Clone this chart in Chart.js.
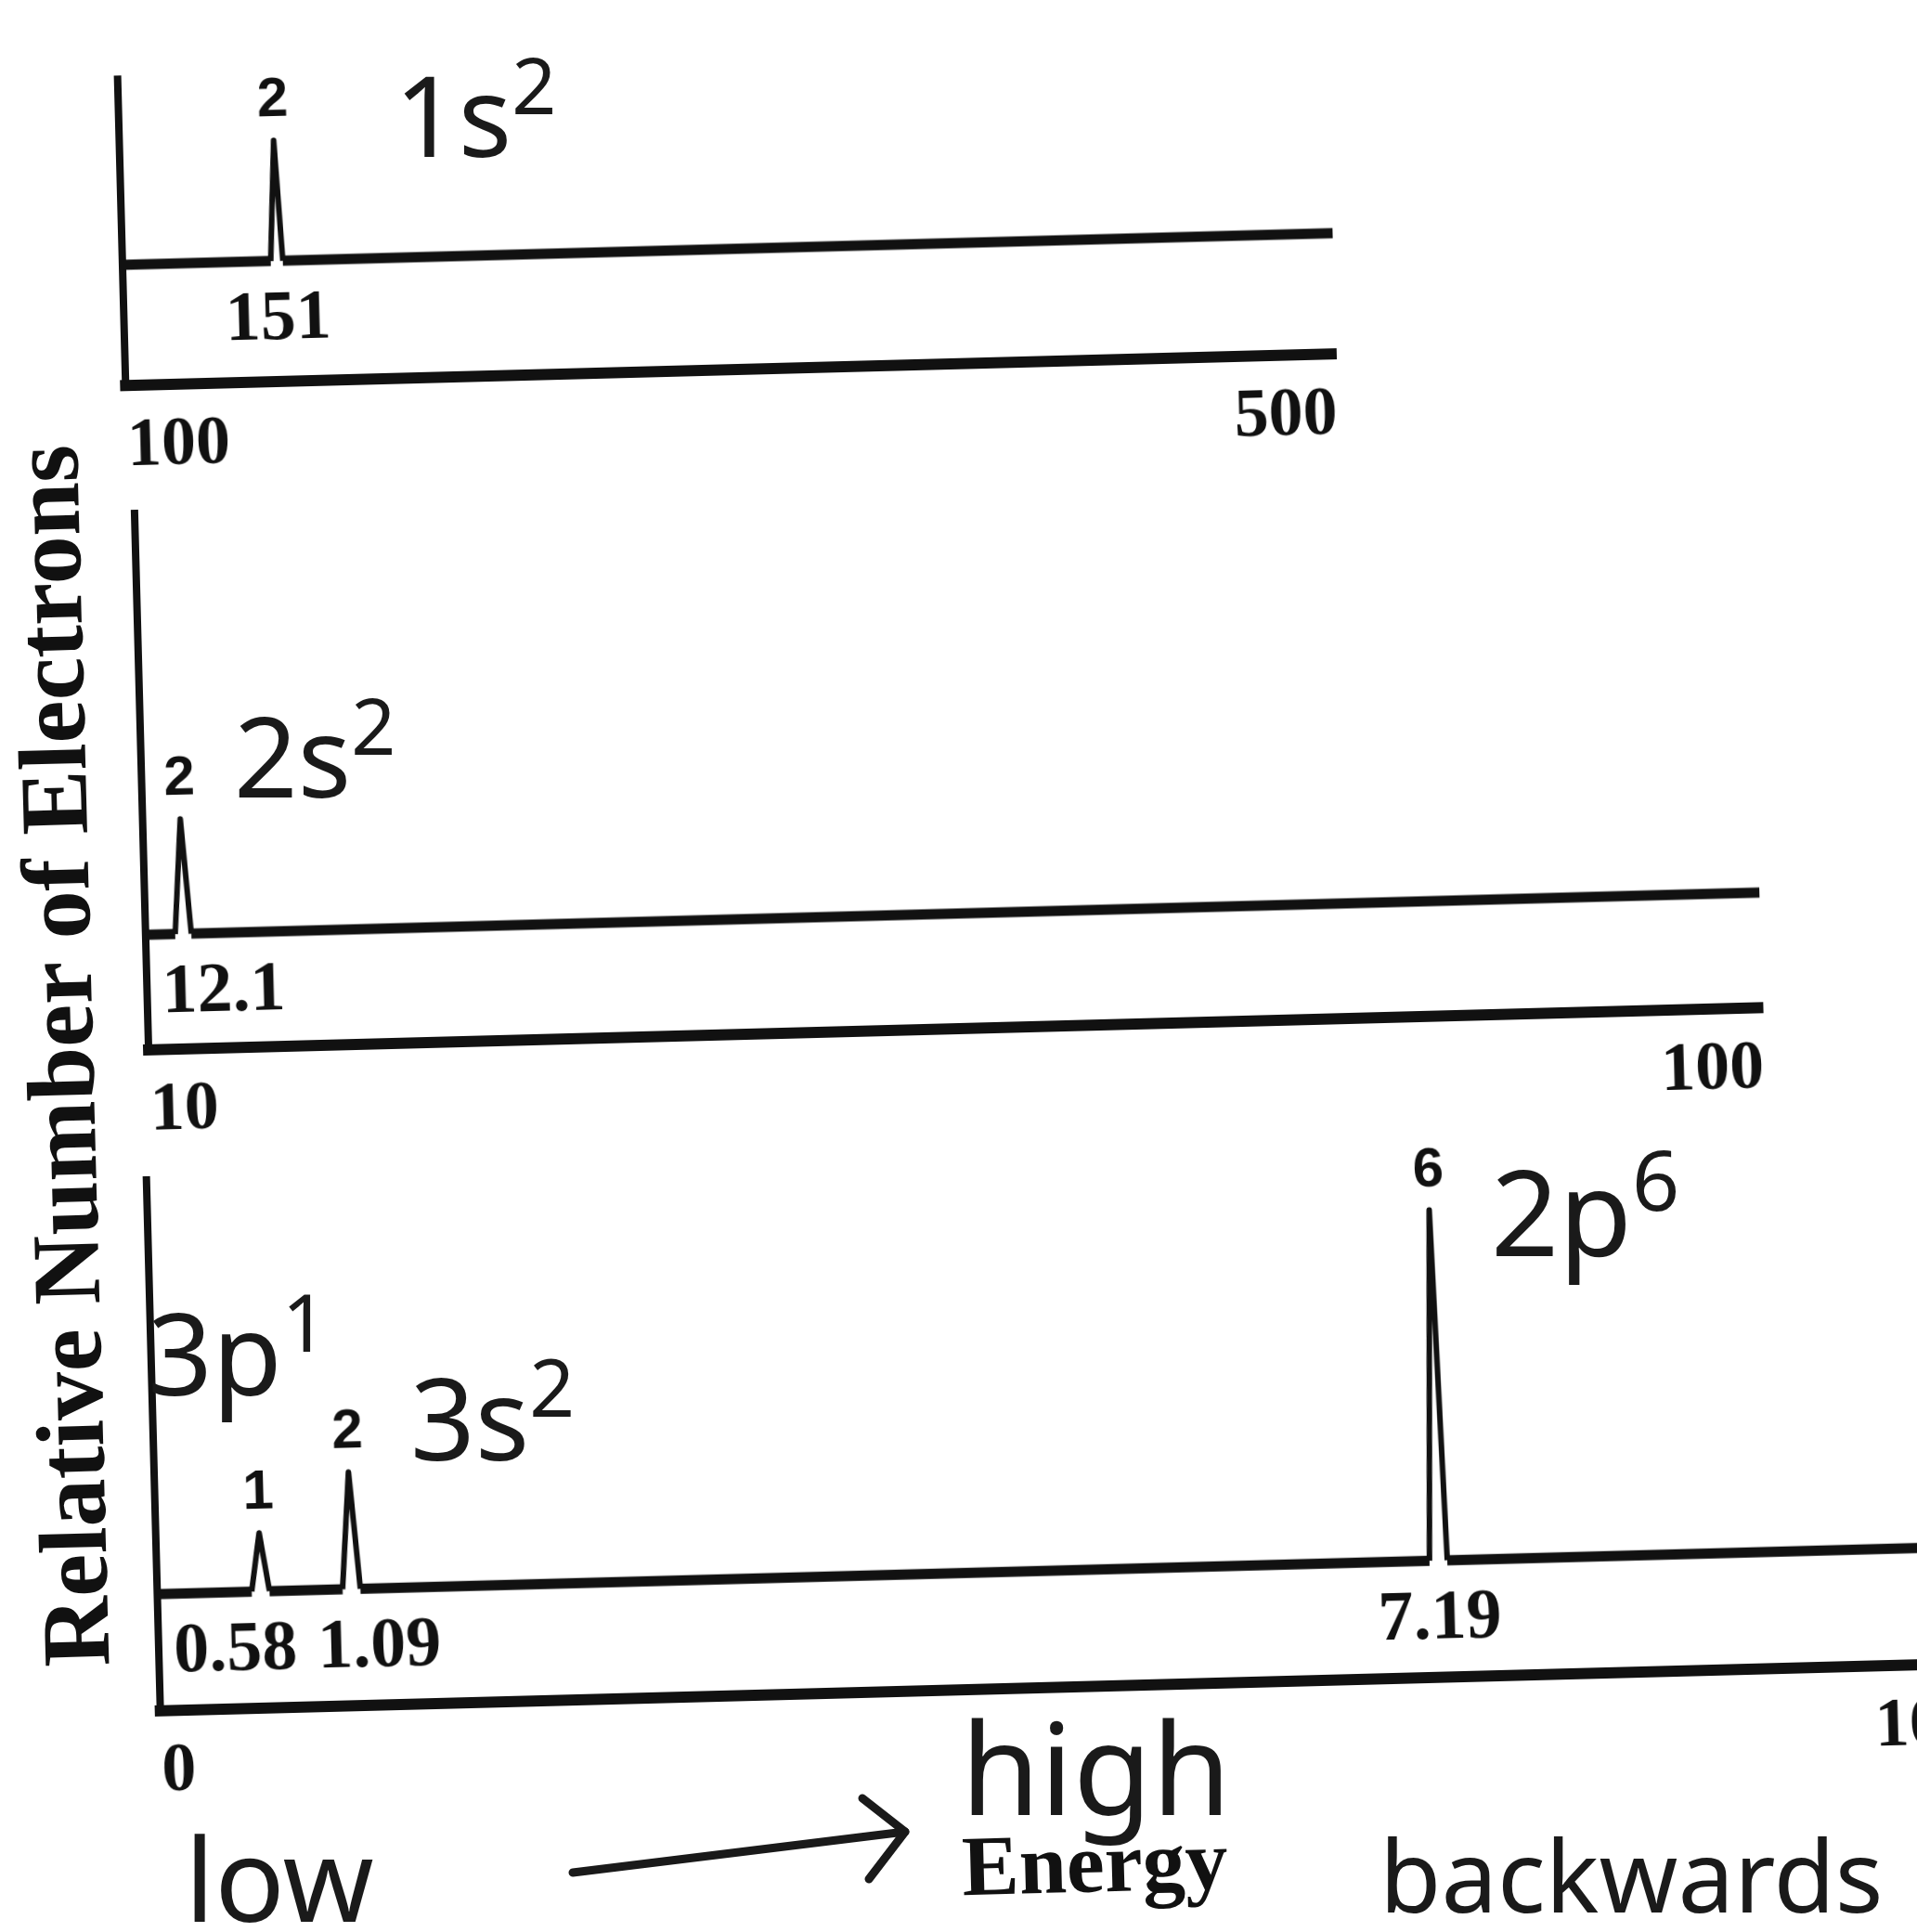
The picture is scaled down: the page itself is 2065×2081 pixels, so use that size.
<!DOCTYPE html>
<html>
<head>
<meta charset="utf-8">
<title>Photoelectron spectrum</title>
<script src="https://cdn.jsdelivr.net/npm/chart.js@4.4.1/dist/chart.umd.min.js"></script>
<style>
  html, body { margin: 0; padding: 0; background: #fff; overflow: hidden; width: 2065px; height: 2081px; }
  /* the scanned sheet sits slightly crooked */
  #page { position: absolute; left: 0; top: 0; width: 2065px; height: 2081px; transform: rotate(-1.5deg); transform-origin: 1032px 1040px; }
  #page canvas { position: absolute; }
  .print { position: absolute; font-family: 'Liberation Serif', serif; font-weight: bold; color: #111; white-space: nowrap; line-height: 1; }
  .pen { position: absolute; font-family: 'Noto Sans', sans-serif; font-weight: 400; color: #1a1a1a; white-space: nowrap; line-height: 1; }
  .pen sup { font-size: 70%; vertical-align: 0.55em; line-height: 0; }
</style>
</head>
<body>
<div id="page">
  <canvas id="panel1" width="1364" height="474" style="left:122px; top:52px;"></canvas>
  <canvas id="panel2" width="1799" height="722" style="left:128px; top:520px;"></canvas>
  <canvas id="panel3" width="1980" height="716" style="left:122px; top:1238px;"></canvas>
  <div class="print" style="left:63px; top:1112px; font-size:104px; transform: translate(-50%, -50%) rotate(-90deg);">Relative Number of Electrons</div>
  <div class="print" style="left:1154px; top:2010px; font-size:92px; transform: translate(-50%, -50%);">Energy</div>
</div>

<!-- pen notes added on the printout -->
<div class="pen" style="left:425px; top:63px; font-size:120px;">1s<sup>2</sup></div>
<div class="pen" style="left:252px; top:753px; font-size:120px;">2s<sup>2</sup></div>
<div class="pen" style="left:159px; top:1395px; font-size:122px;">3p<sup>1</sup></div>
<div class="pen" style="left:442px; top:1465px; font-size:122px;">3s<sup>2</sup></div>
<div class="pen" style="left:1606px; top:1240px; font-size:128px;">2p<sup>6</sup></div>
<div class="pen" style="left:1035px; top:1832px; font-size:138px;">high</div>
<div class="pen" style="left:199px; top:1959px; font-size:125px;">low</div>
<div class="pen" style="left:1486px; top:1965px; font-size:108px;">backwards</div>
<svg style="position:absolute; left:0; top:0;" width="2065" height="2081">
  <g stroke="#1a1a1a" stroke-width="9" fill="none" stroke-linecap="round" stroke-linejoin="round">
    <path d="M617 2017 L975 1973"/>
    <path d="M929 1937 L975 1973 L936 2024"/>
  </g>
</svg>

<script>
// 1s panel
const panel1Range = [100, 500];
const panel1Energies = [151];
const panel1Electrons = [2];

// 2s panel
const panel2Range = [10, 100];
const panel2Energies = [12.1];
const panel2Electrons = [2];

// 2p / 3s / 3p panel
const panel3Range = [0, 10];
const panel3Energies = [0.58, 1.09, 7.19];
const panel3Electrons = [1, 2, 6];

const INK = '#111';

// half width of a peak at its foot, as a share of the axis span
function spikeWidth(range) {
    return (range[1] - range[0]) * 0.005;
}

// flat line at zero, broken where each peak stands
function baselinePoints(range, energies, w) {
    const pts = [{x: range[0], y: 0}];
    energies.forEach(e => {
        pts.push({x: e - w, y: 0}, {x: e, y: null}, {x: e + w, y: 0});
    });
    pts.push({x: range[1], y: 0});
    return pts;
}

// one narrow triangle per peak
function peakPoints(energies, electrons, w) {
    const pts = [];
    energies.forEach((e, i) => {
        pts.push({x: e - w, y: 0}, {x: e, y: electrons[i]}, {x: e + w, y: 0}, {x: e + w, y: null});
    });
    return pts;
}

const peakLabels = {
    id: 'peakLabels',
    afterDatasetsDraw(chart, args, opts) {
        const {ctx, chartArea, scales: {x, y}} = chart;
        ctx.save();
        ctx.fillStyle = INK;

        // electron count over each peak
        ctx.font = 'bold 60px "Liberation Sans", sans-serif';
        ctx.textAlign = 'center';
        ctx.textBaseline = 'alphabetic';
        opts.energies.forEach((e, i) => {
            ctx.fillText(String(opts.electrons[i]), x.getPixelForValue(e), y.getPixelForValue(opts.electrons[i]) - 26);
        });

        // energy under the baseline, pushed apart when they collide
        ctx.font = 'bold 76px "Liberation Serif", serif';
        const minLeft = chartArea.left + 16;
        const boxes = opts.energies.map(e => {
            const text = String(e);
            const w = ctx.measureText(text).width;
            const left = Math.max(x.getPixelForValue(e) - w / 2, minLeft);
            return {text, left, w};
        });
        for (let i = 1; i < boxes.length; i++) {
            const prev = boxes[i - 1], cur = boxes[i];
            const overlap = prev.left + prev.w + 22 - cur.left;
            if (overlap > 0) {
                const back = Math.max(0, Math.min(overlap / 2, prev.left - minLeft));
                prev.left -= back;
                cur.left += overlap - back;
            }
        }
        ctx.textAlign = 'left';
        ctx.textBaseline = 'top';
        const top = y.getPixelForValue(0) + 26;
        boxes.forEach(b => ctx.fillText(b.text, b.left, top));
        ctx.restore();
    }
};

function makePanel(id, range, energies, electrons, yMax) {
    const w = spikeWidth(range);
    return new Chart(document.getElementById(id), {
        type: 'line',
        data: {
            datasets: [{
                data: baselinePoints(range, energies, w),
                borderColor: INK,
                borderWidth: 11,
                pointRadius: 0,
                tension: 0
            }, {
                data: peakPoints(energies, electrons, w),
                borderColor: INK,
                borderWidth: 6,
                borderJoinStyle: 'round',
                pointRadius: 0,
                tension: 0
            }]
        },
        options: {
            responsive: false,
            animation: false,
            layout: {padding: {left: 30, right: 30, top: 10, bottom: 0}},
            plugins: {
                legend: {display: false},
                tooltip: {enabled: false},
                peakLabels: {energies, electrons}
            },
            scales: {
                x: {
                    type: 'linear',
                    min: range[0],
                    max: range[1],
                    afterBuildTicks: scale => { scale.ticks = range.map(v => ({value: v})); },
                    grid: {display: false, drawTicks: false},
                    border: {display: true, color: INK, width: 12},
                    ticks: {
                        color: INK,
                        padding: 30,
                        align: 'inner',
                        maxRotation: 0,
                        autoSkip: false,
                        font: {family: 'Liberation Serif', weight: 'bold', size: 74, lineHeight: 1},
                        callback: v => String(v)
                    }
                },
                y: {
                    min: -2,
                    max: yMax,
                    grid: {display: false, drawTicks: false},
                    border: {display: true, color: INK, width: 8},
                    ticks: {display: false}
                }
            }
        },
        plugins: [peakLabels]
    });
}

window.onload = function() {
    makePanel('panel1', panel1Range, panel1Energies, panel1Electrons, 3.08);
    makePanel('panel2', panel2Range, panel2Energies, panel2Electrons, 7.33);
    makePanel('panel3', panel3Range, panel3Energies, panel3Electrons, 7.09);
};
</script>
</body>
</html>
